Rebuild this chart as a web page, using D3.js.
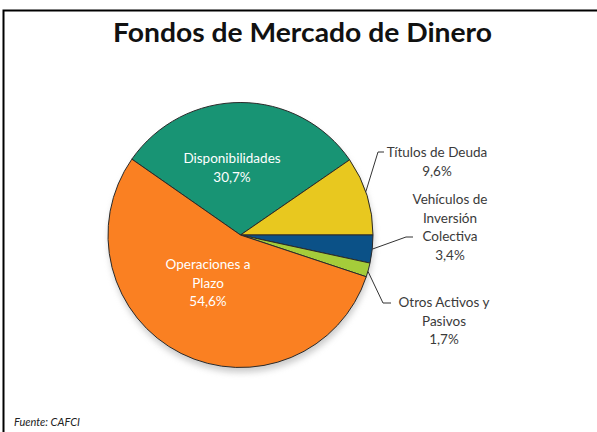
<!DOCTYPE html>
<html><head><meta charset="utf-8">
<script src="https://cdn.jsdelivr.net/npm/d3@7/dist/d3.min.js"></script>
<style>body{margin:0;background:#fff}svg{display:block}</style>
</head><body><svg id="c" width="597" height="432"></svg>
<script>
const categories = ["Disponibilidades","Títulos de Deuda","Vehículos de Inversión Colectiva","Otros Activos y Pasivos","Operaciones a Plazo"];
const values = [30.7, 9.6, 3.4, 1.7, 54.6];
const colors = ["#189474","#e8c81f","#0b5187","#a5cc3a","#fa8022"];
const labelLines = [["Disponibilidades","30,7%"],["Títulos de Deuda","9,6%"],["Vehículos de","Inversión","Colectiva","3,4%"],["Otros Activos y","Pasivos","1,7%"],["Operaciones a","Plazo","54,6%"]];

const svg = d3.select("#c");
const font = "Lato, 'Open Sans', sans-serif";
svg.append("rect").attr("x",3.5).attr("y",10.5).attr("width",620).attr("height",440)
  .attr("fill","none").attr("stroke","#000").attr("stroke-width",2);
svg.append("text").attr("x",302.5).attr("y",42).attr("text-anchor","middle")
  .attr("font-family",font).attr("font-weight","bold").attr("font-size",27).attr("fill","#111")
  .attr("textLength",379).attr("lengthAdjust","spacingAndGlyphs")
  .text("Fondos de Mercado de Dinero");
svg.append("text").attr("x",14).attr("y",426).attr("font-family",font).attr("font-style","italic")
  .attr("font-size",11).attr("fill","#222").text("Fuente:  CAFCI");

const cx = 240.5, cy = 235, r = 132.5;
const total = d3.sum(values);
const start = Math.PI/2 - 2*Math.PI*(values[0]+values[1])/total;
const pie = d3.pie().sort(null).startAngle(start).endAngle(start+2*Math.PI);
const arcs = pie(values);
const arc = d3.arc().innerRadius(0).outerRadius(r);

const defs = svg.append("defs");
const f = defs.append("filter").attr("id","sh").attr("x","-20%").attr("y","-20%").attr("width","140%").attr("height","140%");
f.append("feGaussianBlur").attr("stdDeviation",3);
const g = svg.append("g").attr("transform",`translate(${cx},${cy})`);
g.append("circle").attr("cx",1).attr("cy",5).attr("r",r).attr("fill","#999").attr("opacity",0.5).attr("filter","url(#sh)");
g.selectAll("path.s").data(arcs).join("path").attr("class","s").attr("d",arc)
  .attr("fill",(d,i)=>colors[i]).attr("stroke","#2a2a2a").attr("stroke-width",1);

// label positions (text center, first-line baseline)
const labelPos = [[232,163],[437,157],[450,204],[444,307],[208,269]];
const inside = [true,false,false,false,true];
const lh = 18.5;
labelLines.forEach((lines,i)=>{
  const t = svg.append("text").attr("text-anchor","middle").attr("font-family",font)
    .attr("font-size",13.5).attr("fill",inside[i]?"#fff":"#3a3a3a");
  lines.forEach((s,k)=>t.append("tspan").attr("x",labelPos[i][0]).attr("y",labelPos[i][1]+k*lh).text(s));
});

// leader lines: from slice edge to label
const edge = (i, frac) => { const a = arcs[i].startAngle + (arcs[i].endAngle-arcs[i].startAngle)*frac;
  return [cx + r*Math.sin(a), cy - r*Math.cos(a)]; };
const leaders = [
  [edge(1,0.45),[378,152],[384,152]],
  [edge(2,0.5),[406,237],[413,237]],
  [edge(3,0.6),[383,303],[391,303]]
];
svg.selectAll("path.l").data(leaders).join("path").attr("class","l")
  .attr("d",d=>d3.line()(d)).attr("fill","none").attr("stroke","#333").attr("stroke-width",1);
</script></body></html>
